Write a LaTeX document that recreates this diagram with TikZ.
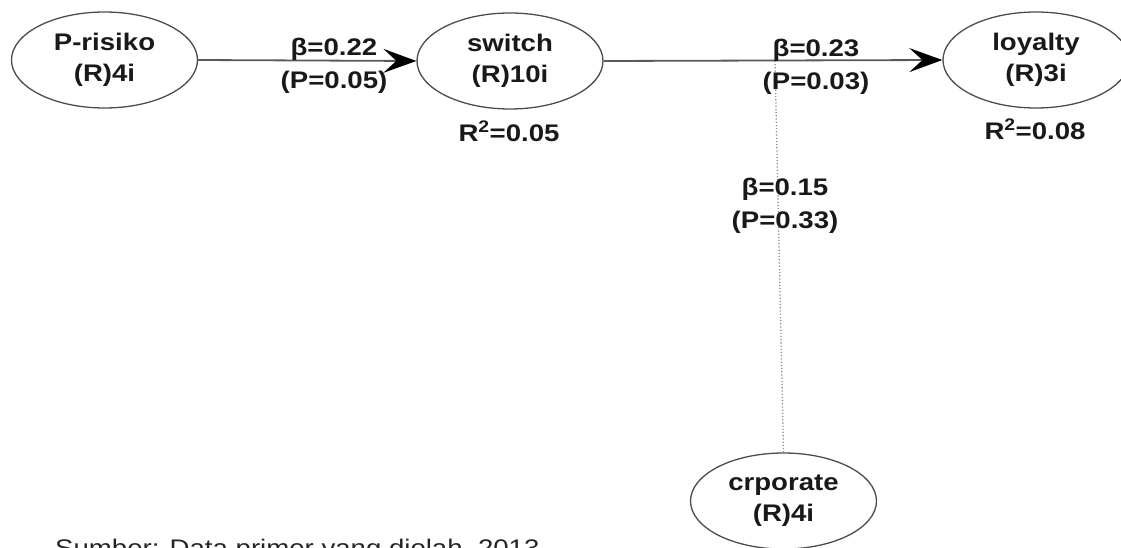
\documentclass[tikz,border=0pt]{standalone}
\usepackage{fontspec}
\setmainfont{Liberation Sans}[FakeStretch=1.15]
\usetikzlibrary{shapes.geometric,arrows.meta}
\begin{document}
\begin{tikzpicture}[x=1pt,y=-1pt,
  construct/.style={ellipse,draw=black!70,line width=1.3pt,
    minimum width=186pt,minimum height=96pt,inner sep=0pt,align=center,
    font=\fontsize{24}{31}\selectfont\bfseries,text=black!90},
  relpath/.style={draw=black!65,line width=1.8pt,
    -{Stealth[length=33pt,width=24pt,inset=13pt,color=black]}},
  modpath/.style={draw=black!45,line width=1.3pt,dash pattern=on 1.2pt off 2pt},
  coef/.style={align=center,font=\fontsize{24}{33}\selectfont\bfseries,
    inner sep=0pt,text=black!90},
  rsq/.style={font=\fontsize{24}{28}\selectfont\bfseries,inner sep=0pt,
    anchor=base,text=black!90},
]
\useasboundingbox (0,0) rectangle (1121,548);
\clip (0,0) rectangle (1121,548);

% constructs
\node[construct] (risk)   at (104.5,60) {P-risiko\\(R)4i};
\node[construct] (switch) at (510,61)   {switch\\(R)10i};
\node[construct] (loyal)  at (1036,60)  {loyalty\\(R)3i};
\node[construct] (corp)   at (783.5,501) {crporate\\(R)4i};

% structural paths
\draw[relpath] (risk.east) -- (switch.west);
\draw[relpath] (switch.east) -- (loyal.west);
\coordinate (mod) at (775,61);
\draw[modpath] (corp.north) -- (mod);

% path coefficients
\node[coef] (c1) at (334,66)  {β=0.22\\(P=0.05)};
\node[coef] (c2) at (816,67)  {β=0.23\\(P=0.03)};
\node[coef] (c3) at (785,206) {β=0.15\\(P=0.33)};

% explained variance
\node[rsq] (r1) at (509,142) {R\textsuperscript{2}=0.05};
\node[rsq] (r2) at (1035,140) {R\textsuperscript{2}=0.08};

% source note
\node[anchor=base west,inner sep=0pt,font=\fontsize{24}{28}\selectfont,text=black!85]
  (src) at (55,556) {Sumber: Data primer yang diolah, 2013};
\end{tikzpicture}
\end{document}
